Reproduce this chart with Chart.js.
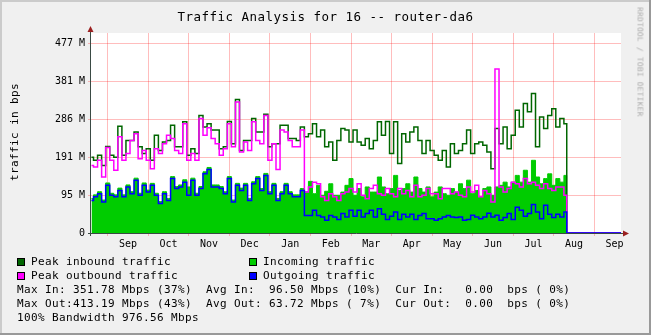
<!DOCTYPE html>
<html><head><meta charset="utf-8">
<script src="https://cdn.jsdelivr.net/npm/chart.js@4/dist/chart.umd.min.js"></script>
<style>
html,body{margin:0;padding:0;background:#F0F0F0;}
#wrap{position:relative;width:651px;height:335px;overflow:hidden;}
#c{position:absolute;left:0;top:0;}
.t{position:absolute;font-family:"DejaVu Sans Mono",monospace;white-space:pre;color:#000;}
.lg{font-size:11px;letter-spacing:0.38px;line-height:14px;}
.sq{position:absolute;width:6px;height:6px;border:1px solid #000;}
</style></head>
<body><div id="wrap">
<canvas id="c" width="651" height="335"></canvas>
<div class="t" id="title" style="left:0;width:651px;top:9px;text-align:center;font-size:12.5px;letter-spacing:0.47px;line-height:16px;"></div>
<div class="t lg" id="ytitle" style="left:15px;top:132px;transform:translate(-50%,-50%) rotate(-90deg);"></div>
<div class="t" id="credit" style="left:640px;top:62px;transform:translate(-50%,-50%) rotate(90deg);font-size:7.6px;letter-spacing:0.4px;line-height:9px;color:#a8a8a8;"></div>
<div id="legend"></div>
</div>
<script>
// ---------- data (Mbps, axis units as drawn: "M") ----------
const MONTHS = ['Sep','Oct','Nov','Dec','Jan','Feb','Mar','Apr','May','Jun','Jul','Aug','Sep'];
const MONTH_GRID = [1,2,3,4,5,6,7,8,9,10,11,12,13];          // month boundaries (months after 1st Aug)
const Y_TICKS = [0, 95.37, 190.73, 286.10, 381.47, 476.84];
const Y_LABELS = ['0','95 M','191 M','286 M','381 M','477 M'];
const T_START = 0.6, T_STEP = 0.1, T_END = 12.34;          // sample times, months after 1st Aug

const peakIn = [191,183,196,170,218,196,191,269,196,233,233,254,217,200,212,183,246,208,229,233,271,217,217,280,196,212,200,296,267,275,
 259,259,212,217,281,225,336,208,233,233,288,254,254,299,217,225,225,271,271,238,238,233,267,242,250,275,242,259,217,
 229,183,233,263,259,229,259,229,221,238,212,233,280,246,281,200,280,175,250,229,254,267,233,200,233,208,196,183,208,166,
 225,200,208,225,259,200,225,229,221,204,162,263,225,267,212,246,309,267,326,305,351,217,292,263,296,313,267,288,275];

const incoming = [87,96,104,83,126,100,96,113,96,121,104,138,100,126,108,125,100,79,104,87,142,117,121,134,116,138,100,117,154,165,
 121,121,117,104,142,83,125,113,125,87,129,142,112,150,104,125,87,104,125,104,96,96,112,104,130,99,120,95,105,
 124,95,95,103,120,137,95,112,91,116,103,103,141,116,99,112,145,107,112,124,103,141,112,103,116,91,103,116,99,95,
 112,103,124,112,133,99,107,91,112,116,95,116,120,128,116,128,145,128,158,128,183,141,124,137,149,120,137,128,145];

const peakOut = [170,166,183,141,215,183,158,242,183,200,233,250,187,208,183,162,212,200,225,246,238,208,200,275,183,200,183,288,246,265,
 238,225,196,212,275,217,330,204,229,208,280,233,225,296,183,225,160,259,254,233,217,217,259,103,116,128,124,91,82,
 99,91,82,99,103,112,103,124,95,86,112,120,99,95,112,99,91,112,99,107,91,120,91,95,112,99,99,86,112,112,
 99,103,95,91,116,103,120,91,107,99,78,413,116,103,112,128,124,116,137,124,128,120,112,124,112,107,116,116,95];

const outgoing = [82,91,99,78,120,95,91,107,91,116,99,133,95,120,103,120,95,74,99,82,137,112,116,128,95,133,95,112,149,160,
 116,116,112,99,137,78,120,107,120,82,124,137,107,145,99,120,82,99,120,99,91,91,107,44,44,57,44,40,32,
 44,40,34,49,40,57,42,57,40,49,57,40,61,47,34,42,53,34,47,40,47,34,44,49,36,36,32,36,40,44,
 40,39,40,32,34,45,40,36,40,50,40,45,32,39,49,34,65,57,42,49,72,53,36,70,47,39,47,40,53];

const TITLE = 'Traffic Analysis for 16 -- router-da6';
const Y_TITLE = 'traffic in bps';
const CREDIT = 'RRDTOOL / TOBI OETIKER';
const SERIES_NAMES = ['Peak inbound traffic','Incoming traffic','Peak outbound traffic','Outgoing traffic'];
const STATS = [
 'Max In: 351.78 Mbps (37%)  Avg In:  96.50 Mbps (10%)  Cur In:   0.00  bps ( 0%)',
 'Max Out:413.19 Mbps (43%)  Avg Out: 63.72 Mbps ( 7%)  Cur Out:  0.00  bps ( 0%)',
 '100% Bandwidth 976.56 Mbps'];

// ---------- layout / style ----------
const X_MIN = 0.588, X_MAX = 13.658, Y_MAX = 503.5;
const GRID = 'rgba(255,0,0,0.26)';
const COLORS = {pin:'#006600', inc:'#00CC00', pout:'#FF00FF', out:'#0000FF'};

function series(vals){
  const pts = vals.map((v,i)=>({x:+(T_START+i*T_STEP).toFixed(3), y:v}));
  pts.push({x:T_END,y:0},{x:X_MAX,y:0});
  return pts;
}

document.getElementById('title').textContent = TITLE;
document.getElementById('ytitle').textContent = Y_TITLE;
document.getElementById('credit').textContent = CREDIT;
const lg = document.getElementById('legend');
function addText(txt, x, yc){ const d=document.createElement('div'); d.className='t lg'; d.style.left=x+'px'; d.style.top=(yc-7)+'px'; d.textContent=txt; lg.appendChild(d); }
function addSq(col, x, yc){ const d=document.createElement('div'); d.className='sq'; d.style.background=col; d.style.left=x+'px'; d.style.top=(yc-4)+'px'; lg.appendChild(d); }
addSq(COLORS.pin,17,261.5); addText(SERIES_NAMES[0],31,261.5);
addSq(COLORS.inc,249,261.5); addText(SERIES_NAMES[1],263,261.5);
addSq(COLORS.pout,17,275.5); addText(SERIES_NAMES[2],31,275.5);
addSq(COLORS.out,249,275.5); addText(SERIES_NAMES[3],263,275.5);
addText(STATS[0],17,289.5); addText(STATS[1],17,303.5); addText(STATS[2],17,317.5);

const framePlugin = {
  id:'frame',
  beforeDraw(chart){
    const {ctx, chartArea:a} = chart;
    ctx.save();
    ctx.fillStyle='#F0F0F0'; ctx.fillRect(0,0,651,335);
    ctx.fillStyle='#CBCBCB'; ctx.fillRect(0,0,651,2); ctx.fillRect(0,0,2,335);
    ctx.fillStyle='#999999'; ctx.fillRect(0,333,651,2); ctx.fillRect(649,0,2,335);
    ctx.fillStyle='#FFFFFF'; ctx.fillRect(a.left,a.top,a.right-a.left,a.bottom-a.top);
    ctx.restore();
  },
  afterDraw(chart){
    const {ctx, chartArea:a} = chart;
    ctx.save();
    ctx.strokeStyle='#3a4a44'; ctx.lineWidth=1;
    ctx.beginPath();
    ctx.moveTo(a.left-0.5, a.top-5); ctx.lineTo(a.left-0.5, a.bottom+3);
    ctx.moveTo(a.left-3, a.bottom+0.5); ctx.lineTo(a.right+4, a.bottom+0.5);
    ctx.stroke();
    ctx.fillStyle='#9b2020';
    ctx.beginPath();
    ctx.moveTo(a.left-3.5, a.top-1); ctx.lineTo(a.left+2.5, a.top-1); ctx.lineTo(a.left-0.5, a.top-7); ctx.closePath(); ctx.fill();
    ctx.beginPath();
    ctx.moveTo(a.right+2, a.bottom-2.5); ctx.lineTo(a.right+2, a.bottom+3.5); ctx.lineTo(a.right+8, a.bottom+0.5); ctx.closePath(); ctx.fill();
    ctx.restore();
  }
};

const tickFont = {family:'DejaVu Sans Mono', size:10};
new Chart(document.getElementById('c'), {
  type:'line',
  data:{ datasets:[
    {label:SERIES_NAMES[1], data:series(incoming), stepped:'middle', fill:'origin', backgroundColor:COLORS.inc, borderColor:COLORS.inc, borderWidth:1, pointRadius:0, order:4},
    {label:SERIES_NAMES[0], data:series(peakIn), stepped:'middle', fill:false, borderColor:COLORS.pin, borderWidth:1.5, pointRadius:0, order:3},
    {label:SERIES_NAMES[2], data:series(peakOut), stepped:'middle', fill:false, borderColor:COLORS.pout, borderWidth:1.5, pointRadius:0, order:2},
    {label:SERIES_NAMES[3], data:series(outgoing), stepped:'middle', fill:false, borderColor:COLORS.out, borderWidth:1.5, pointRadius:0, order:1}
  ]},
  options:{
    responsive:false, animation:false, devicePixelRatio:1,
    layout:{padding:{left:0, top:33, right:30, bottom:82}},
    plugins:{legend:{display:false}, tooltip:{enabled:false}, title:{display:false}},
    scales:{
      x:{type:'linear', min:X_MIN, max:X_MAX, z:1,
        afterBuildTicks:s=>{ const t=[]; MONTH_GRID.forEach(m=>{t.push({value:m}); t.push({value:m+0.5});}); s.ticks=t; },
        ticks:{autoSkip:false, maxRotation:0, minRotation:0, font:tickFont, color:'#000', padding:2,
          callback:(v)=> Number.isInteger(v) ? '' : MONTHS[Math.floor(v)-1]},
        grid:{color:c=> (c.tick && Number.isInteger(c.tick.value)) ? GRID : 'rgba(0,0,0,0)', tickLength:3},
        border:{display:false},
        afterFit:s=>{ s.height=20; }
      },
      y:{type:'linear', min:0, max:Y_MAX, z:1,
        afterBuildTicks:s=>{ s.ticks = Y_TICKS.map(v=>({value:v})); },
        ticks:{font:tickFont, color:'#000', padding:3, callback:(v,i)=>Y_LABELS[i]},
        grid:{color:GRID, tickLength:3},
        border:{display:false},
        afterFit:s=>{ s.width=91; }
      }
    }
  },
  plugins:[framePlugin]
});
</script>
</body></html>
